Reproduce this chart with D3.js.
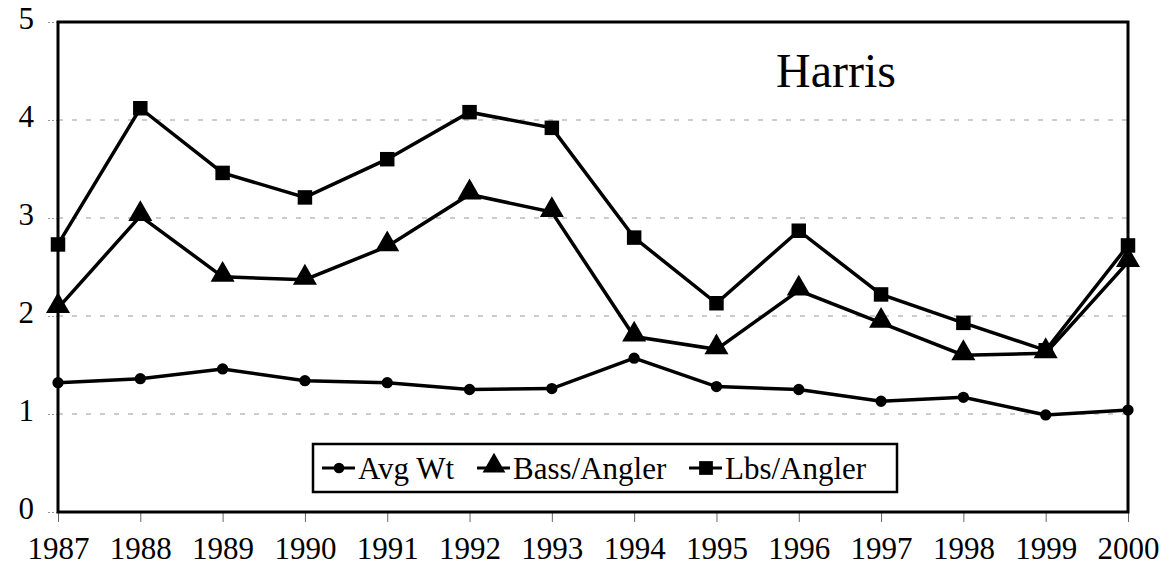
<!DOCTYPE html>
<html>
<head>
<meta charset="utf-8">
<title>Harris</title>
<script src="https://cdn.jsdelivr.net/npm/d3@7"></script>
<style>
  body { margin: 0; background: #fff; }
  text { font-family: "Liberation Serif", "Times New Roman", serif; fill: #000; }
</style>
</head>
<body>
<div id="chart"></div>
<script>
var years = [1987, 1988, 1989, 1990, 1991, 1992, 1993, 1994, 1995, 1996, 1997, 1998, 1999, 2000];
var avgWt = [1.32, 1.36, 1.46, 1.34, 1.32, 1.25, 1.26, 1.57, 1.28, 1.25, 1.13, 1.17, 0.99, 1.04];
var bassPerAngler = [2.08, 3.02, 2.40, 2.37, 2.71, 3.24, 3.06, 1.79, 1.66, 2.26, 1.93, 1.60, 1.62, 2.55];
var lbsPerAngler = [2.73, 4.12, 3.46, 3.21, 3.60, 4.08, 3.92, 2.80, 2.13, 2.87, 2.22, 1.93, 1.65, 2.72];
var yTicks = [0, 1, 2, 3, 4, 5];
var seriesNames = ['Avg Wt', 'Bass/Angler', 'Lbs/Angler'];
var title = 'Harris';

var width = 1174, height = 571;
var plotLeft = 58, plotRight = 1128, plotTop = 22, plotBottom = 512;

var svg = d3.select('#chart').append('svg')
    .attr('width', width)
    .attr('height', height);

var x = d3.scalePoint().domain(years).range([plotLeft, plotRight]);
var y = d3.scaleLinear().domain([0, 5]).range([plotBottom, plotTop]);

// gridlines
svg.append('g').selectAll('line')
    .data(yTicks.slice(1, 5))
  .enter().append('line')
    .attr('x1', plotLeft).attr('x2', plotRight)
    .attr('y1', function(d) { return y(d); })
    .attr('y2', function(d) { return y(d); })
    .attr('stroke', '#999')
    .attr('stroke-width', 1)
    .attr('stroke-dasharray', '5,9');

// y axis
var yAxis = d3.axisLeft(y).tickValues(yTicks).tickFormat(d3.format('d')).tickSize(10).tickPadding(14);
var gy = svg.append('g').attr('transform', 'translate(' + plotLeft + ',0)').call(yAxis);
gy.select('.domain').remove();
gy.selectAll('line').attr('stroke', '#999').attr('stroke-dasharray', '2,2');
gy.selectAll('text').attr('font-size', 31).attr('dy', '0.2em').style('font-family', '"Liberation Serif", serif');

// x axis
var xAxis = d3.axisBottom(x).tickSize(10).tickPadding(15);
var gx = svg.append('g').attr('transform', 'translate(0,' + plotBottom + ')').call(xAxis);
gx.select('.domain').remove();
gx.selectAll('line').attr('stroke', '#666');
gx.selectAll('text').attr('font-size', 31).style('font-family', '"Liberation Serif", serif');

// plot border
svg.append('rect')
    .attr('x', plotLeft).attr('y', plotTop)
    .attr('width', plotRight - plotLeft).attr('height', plotBottom - plotTop)
    .attr('fill', 'none').attr('stroke', '#000').attr('stroke-width', 3);

var line = d3.line()
    .x(function(d, i) { return x(years[i]); })
    .y(function(d) { return y(d); });

var allSeries = [avgWt, bassPerAngler, lbsPerAngler];
var symbols = [d3.symbolCircle, d3.symbolTriangle, d3.symbolSquare];
var symSizes = [100, 250, 210];

allSeries.forEach(function(data, k) {
  svg.append('path')
      .datum(data)
      .attr('d', line)
      .attr('fill', 'none')
      .attr('stroke', '#000')
      .attr('stroke-width', 3.5);
  svg.append('g').selectAll('path')
      .data(data)
    .enter().append('path')
      .attr('transform', function(d, i) {
        var dy = k == 1 ? -2 : 0;
        return 'translate(' + x(years[i]) + ',' + (y(d) + dy) + ')';
      })
      .attr('d', d3.symbol().type(symbols[k]).size(symSizes[k]))
      .attr('fill', '#000');
});

// title
svg.append('text')
    .attr('x', 836).attr('y', 87)
    .attr('text-anchor', 'middle')
    .attr('font-size', 48)
    .text(title);

// legend
var lg = svg.append('g');
lg.append('rect')
    .attr('x', 313).attr('y', 444)
    .attr('width', 584).attr('height', 48)
    .attr('fill', '#fff').attr('stroke', '#000').attr('stroke-width', 2.5);
var legendX = [322, 477, 689];
seriesNames.forEach(function(name, k) {
  var lx = legendX[k], ly = 468;
  lg.append('line')
      .attr('x1', lx).attr('x2', lx + 33)
      .attr('y1', ly).attr('y2', ly)
      .attr('stroke', '#000').attr('stroke-width', 3);
  lg.append('path')
      .attr('transform', 'translate(' + (lx + 17) + ',' + (ly + (k == 1 ? -2 : 0)) + ')')
      .attr('d', d3.symbol().type(symbols[k]).size(symSizes[k] * 0.9))
      .attr('fill', '#000');
  lg.append('text')
      .attr('x', lx + 36).attr('y', ly + 11)
      .attr('font-size', 31)
      .text(name);
});
</script>
</body>
</html>
